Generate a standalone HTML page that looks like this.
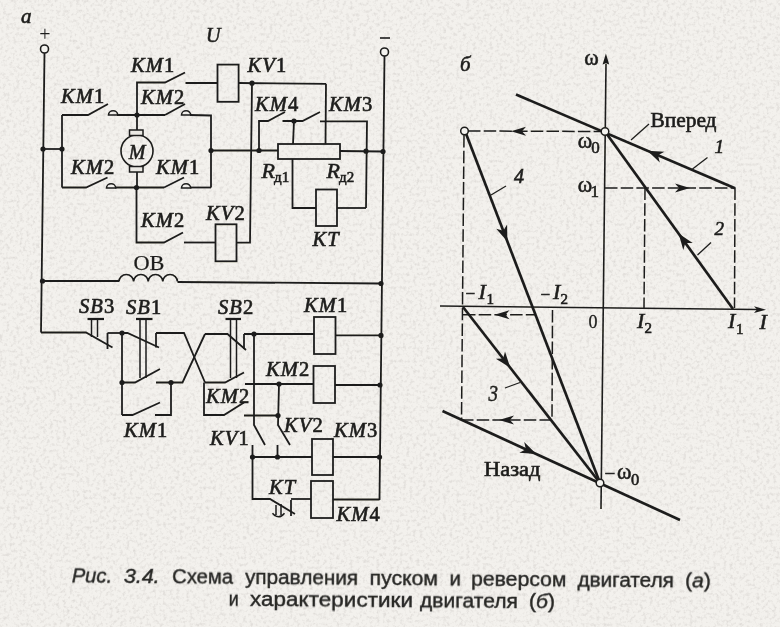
<!DOCTYPE html>
<html><head><meta charset="utf-8"><style>
html,body{margin:0;padding:0;}
body{width:780px;height:627px;position:relative;overflow:hidden;background:#f3f1ed;}
svg{position:absolute;left:0;top:0;}
</style></head><body>
<svg width="780" height="627" viewBox="0 0 780 627">
<filter id="n" x="0" y="0" width="100%" height="100%">
<feTurbulence type="fractalNoise" baseFrequency="0.3" numOctaves="3" seed="7"/>
<feColorMatrix type="matrix" values="0 0 0 0 0.45  0 0 0 0 0.42  0 0 0 0 0.40  0 0 0 -0.75 0.4"/>
</filter>
<rect width="780" height="627" filter="url(#n)"/>
<filter id="b" x="-2%" y="-2%" width="104%" height="104%"><feGaussianBlur stdDeviation="0.3"/></filter>
<g filter="url(#b)">
<text x="21" y="23" font-family="Liberation Serif" font-size="21" font-style="italic" text-anchor="start" fill="#1e1e1c" stroke="#1e1e1c" stroke-width="0.6">a</text>
<text x="45" y="40.5" text-anchor="middle" font-family="Liberation Serif" font-size="20" fill="#1e1e1c">+</text>
<text x="206" y="42" font-family="Liberation Serif" font-size="20" font-style="italic" text-anchor="start" fill="#1e1e1c" stroke="#1e1e1c" stroke-width="0.6">U</text>
<line x1="380" y1="38" x2="390" y2="38" stroke="#1e1e1c" stroke-width="1.6"/>
<circle cx="44.5" cy="49" r="4" fill="#f4f3ef" stroke="#1e1e1c" stroke-width="1.6"/>
<circle cx="384.5" cy="52" r="4" fill="#f4f3ef" stroke="#1e1e1c" stroke-width="1.6"/>
<line x1="44.5" y1="53" x2="41" y2="332.5" stroke="#1e1e1c" stroke-width="1.8"/>
<line x1="384.5" y1="56" x2="379.5" y2="500" stroke="#1e1e1c" stroke-width="1.8"/>
<polyline points="137,115 137,82.5 165,82.5 185,72.5" fill="none" stroke="#1e1e1c" stroke-width="1.8" stroke-linejoin="miter"/>
<line x1="185.5" y1="83" x2="217.5" y2="83" stroke="#1e1e1c" stroke-width="1.8"/>
<rect x="217.5" y="64.6" width="21.099999999999994" height="37.2" fill="none" stroke="#1e1e1c" stroke-width="1.8"/>
<line x1="238.6" y1="83" x2="326" y2="83.8" stroke="#1e1e1c" stroke-width="1.8"/>
<circle cx="252" cy="83.2" r="2.6" fill="#1e1e1c"/>
<polyline points="252,83.2 250,242.7 236.5,242.7" fill="none" stroke="#1e1e1c" stroke-width="1.8" stroke-linejoin="miter"/>
<rect x="215.5" y="224.3" width="21.0" height="37.0" fill="none" stroke="#1e1e1c" stroke-width="1.8"/>
<line x1="215.5" y1="242.5" x2="184" y2="242.5" stroke="#1e1e1c" stroke-width="1.8"/>
<polyline points="183,232.5 164,242.5 136.5,242.5 136.5,187.5" fill="none" stroke="#1e1e1c" stroke-width="1.8" stroke-linejoin="miter"/>
<line x1="326" y1="83.8" x2="325.5" y2="144" stroke="#1e1e1c" stroke-width="1.8"/>
<polyline points="259,150.5 259,121 268,121 285,112" fill="none" stroke="#1e1e1c" stroke-width="1.8" stroke-linejoin="miter"/>
<polyline points="282.5,121 302.5,121 320,112" fill="none" stroke="#1e1e1c" stroke-width="1.8" stroke-linejoin="miter"/>
<circle cx="294" cy="121" r="2.6" fill="#1e1e1c"/>
<line x1="294" y1="121" x2="293" y2="144" stroke="#1e1e1c" stroke-width="1.8"/>
<polyline points="320,121.3 367,121.3 366,208" fill="none" stroke="#1e1e1c" stroke-width="1.8" stroke-linejoin="miter"/>
<rect x="278" y="144" width="62" height="15" fill="none" stroke="#1e1e1c" stroke-width="1.8"/>
<line x1="211" y1="150.5" x2="278" y2="150.5" stroke="#1e1e1c" stroke-width="1.8"/>
<line x1="340" y1="151" x2="383" y2="151.5" stroke="#1e1e1c" stroke-width="1.8"/>
<circle cx="211" cy="150.5" r="2.6" fill="#1e1e1c"/>
<circle cx="259" cy="150.5" r="2.6" fill="#1e1e1c"/>
<circle cx="366" cy="151.2" r="2.6" fill="#1e1e1c"/>
<circle cx="383" cy="151.5" r="2.6" fill="#1e1e1c"/>
<line x1="62" y1="115" x2="62" y2="187.5" stroke="#1e1e1c" stroke-width="1.8"/>
<line x1="43" y1="149" x2="62" y2="149" stroke="#1e1e1c" stroke-width="1.8"/>
<circle cx="43" cy="149" r="2.6" fill="#1e1e1c"/>
<circle cx="62" cy="149" r="2.6" fill="#1e1e1c"/>
<polyline points="62,115 88,115 108,104" fill="none" stroke="#1e1e1c" stroke-width="1.8" stroke-linejoin="miter"/>
<path d="M108.5,115 A4.6,4.2 0 0 1 117.7,115 Z" fill="none" stroke="#1e1e1c" stroke-width="1.6"/>
<line x1="117" y1="115" x2="165" y2="115" stroke="#1e1e1c" stroke-width="1.8"/>
<line x1="165" y1="115" x2="185" y2="104" stroke="#1e1e1c" stroke-width="1.8"/>
<path d="M181.5,115 A4.6,4.2 0 0 1 190.7,115 Z" fill="none" stroke="#1e1e1c" stroke-width="1.6"/>
<polyline points="190,115 211,115.5 211,187.5" fill="none" stroke="#1e1e1c" stroke-width="1.8" stroke-linejoin="miter"/>
<circle cx="137" cy="115" r="2.6" fill="#1e1e1c"/>
<line x1="137" y1="115" x2="137" y2="130" stroke="#1e1e1c" stroke-width="1.8"/>
<circle cx="137" cy="151" r="16" fill="none" stroke="#1e1e1c" stroke-width="1.6"/>
<rect x="129.5" y="130" width="13.5" height="5.5" fill="#ebe9e4" stroke="#1e1e1c" stroke-width="1.5"/>
<rect x="129.5" y="166.5" width="13.5" height="5.5" fill="#ebe9e4" stroke="#1e1e1c" stroke-width="1.5"/>
<text x="137" y="158.5" font-family="Liberation Serif" font-size="20" font-style="italic" text-anchor="middle" fill="#1e1e1c" stroke="#1e1e1c" stroke-width="0.6">M</text>
<line x1="137" y1="172" x2="137" y2="187.5" stroke="#1e1e1c" stroke-width="1.8"/>
<polyline points="62,187.5 86,187.5 107.5,177.5" fill="none" stroke="#1e1e1c" stroke-width="1.8" stroke-linejoin="miter"/>
<path d="M106.5,188 A4.6,4.2 0 0 1 115.7,188 Z" fill="none" stroke="#1e1e1c" stroke-width="1.6"/>
<line x1="115" y1="187.5" x2="164" y2="187.5" stroke="#1e1e1c" stroke-width="1.8"/>
<line x1="164" y1="187.5" x2="184" y2="177.5" stroke="#1e1e1c" stroke-width="1.8"/>
<path d="M181.5,188 A4.6,4.2 0 0 1 190.7,188 Z" fill="none" stroke="#1e1e1c" stroke-width="1.6"/>
<line x1="190" y1="187.5" x2="211" y2="187.5" stroke="#1e1e1c" stroke-width="1.8"/>
<circle cx="136.5" cy="187.5" r="2.6" fill="#1e1e1c"/>
<polyline points="292.5,159 292.5,208 316,208" fill="none" stroke="#1e1e1c" stroke-width="1.8" stroke-linejoin="miter"/>
<rect x="316" y="189.5" width="21" height="36.5" fill="none" stroke="#1e1e1c" stroke-width="1.8"/>
<line x1="337" y1="208" x2="366" y2="208" stroke="#1e1e1c" stroke-width="1.8"/>
<line x1="42.5" y1="281" x2="119" y2="281" stroke="#1e1e1c" stroke-width="1.8"/>
<path d="M119,281.5 a7.3,7 0 0 1 14.6,0 a7.3,7 0 0 1 14.6,0 a7.3,7 0 0 1 14.6,0 a7.3,7 0 0 1 14.6,0" fill="none" stroke="#1e1e1c" stroke-width="1.6"/>
<line x1="177.5" y1="282" x2="381" y2="283.5" stroke="#1e1e1c" stroke-width="1.8"/>
<circle cx="42.5" cy="281" r="2.6" fill="#1e1e1c"/>
<circle cx="381" cy="283.5" r="2.6" fill="#1e1e1c"/>
<text x="133.5" y="270.3" textLength="31" lengthAdjust="spacingAndGlyphs" font-family="Liberation Serif" font-size="22" fill="#1e1e1c" stroke="#1e1e1c" stroke-width="0.25">ОВ</text>
<text x="131" y="72" font-family="Liberation Serif" font-size="20.5" fill="#1e1e1c" stroke="#1e1e1c" stroke-width="0.65" letter-spacing="1.1"><tspan font-style="italic">KM</tspan>1</text>
<text x="61" y="103" font-family="Liberation Serif" font-size="20.5" fill="#1e1e1c" stroke="#1e1e1c" stroke-width="0.65" letter-spacing="1.1"><tspan font-style="italic">KM</tspan>1</text>
<text x="141" y="104" font-family="Liberation Serif" font-size="20.5" fill="#1e1e1c" stroke="#1e1e1c" stroke-width="0.65" letter-spacing="1.1"><tspan font-style="italic">KM</tspan>2</text>
<text x="247.5" y="72.3" font-family="Liberation Serif" font-size="20.5" fill="#1e1e1c" stroke="#1e1e1c" stroke-width="0.65" letter-spacing="1.1"><tspan font-style="italic">KV</tspan>1</text>
<text x="255" y="111" font-family="Liberation Serif" font-size="20.5" fill="#1e1e1c" stroke="#1e1e1c" stroke-width="0.65" letter-spacing="1.1"><tspan font-style="italic">KM</tspan>4</text>
<text x="329" y="111" font-family="Liberation Serif" font-size="20.5" fill="#1e1e1c" stroke="#1e1e1c" stroke-width="0.65" letter-spacing="1.1"><tspan font-style="italic">KM</tspan>3</text>
<text x="71" y="173.5" font-family="Liberation Serif" font-size="20.5" fill="#1e1e1c" stroke="#1e1e1c" stroke-width="0.65" letter-spacing="1.1"><tspan font-style="italic">KM</tspan>2</text>
<text x="156" y="174" font-family="Liberation Serif" font-size="20.5" fill="#1e1e1c" stroke="#1e1e1c" stroke-width="0.65" letter-spacing="1.1"><tspan font-style="italic">KM</tspan>1</text>
<text x="141" y="226.5" font-family="Liberation Serif" font-size="20.5" fill="#1e1e1c" stroke="#1e1e1c" stroke-width="0.65" letter-spacing="1.1"><tspan font-style="italic">KM</tspan>2</text>
<text x="206" y="219.5" font-family="Liberation Serif" font-size="20.5" fill="#1e1e1c" stroke="#1e1e1c" stroke-width="0.65" letter-spacing="1.1"><tspan font-style="italic">KV</tspan>2</text>
<text x="261.5" y="177.5" font-family="Liberation Serif" font-size="22" font-style="italic" text-anchor="start" fill="#1e1e1c" stroke="#1e1e1c" stroke-width="0.6">R</text>
<text x="274" y="182.2" font-family="Liberation Serif" font-size="15" font-style="normal" text-anchor="start" fill="#1e1e1c" stroke="#1e1e1c" stroke-width="0.6">д1</text>
<text x="326.5" y="177.5" font-family="Liberation Serif" font-size="22" font-style="italic" text-anchor="start" fill="#1e1e1c" stroke="#1e1e1c" stroke-width="0.6">R</text>
<text x="339" y="182.2" font-family="Liberation Serif" font-size="15" font-style="normal" text-anchor="start" fill="#1e1e1c" stroke="#1e1e1c" stroke-width="0.6">д2</text>
<text x="312.5" y="246" font-family="Liberation Serif" font-size="20.5" fill="#1e1e1c" stroke="#1e1e1c" stroke-width="0.65" letter-spacing="1.1"><tspan font-style="italic">KT</tspan></text>
<polyline points="41,332.5 86,332.5 112.5,347.5" fill="none" stroke="#1e1e1c" stroke-width="1.8" stroke-linejoin="miter"/>
<line x1="107.5" y1="333" x2="107.5" y2="349" stroke="#1e1e1c" stroke-width="1.8"/>
<line x1="107.5" y1="333" x2="122" y2="333" stroke="#1e1e1c" stroke-width="1.8"/>
<line x1="91.5" y1="319" x2="91.5" y2="337" stroke="#1e1e1c" stroke-width="1.5"/>
<line x1="97.5" y1="319" x2="97.5" y2="337" stroke="#1e1e1c" stroke-width="1.5"/>
<line x1="87.5" y1="319" x2="104" y2="319" stroke="#1e1e1c" stroke-width="2.2"/>
<circle cx="122" cy="333" r="2.6" fill="#1e1e1c"/>
<line x1="122" y1="333" x2="122" y2="415" stroke="#1e1e1c" stroke-width="1.8"/>
<polyline points="122,333 127.5,333 159,347.5" fill="none" stroke="#1e1e1c" stroke-width="1.8" stroke-linejoin="miter"/>
<line x1="156" y1="333" x2="156" y2="347.5" stroke="#1e1e1c" stroke-width="1.8"/>
<polyline points="156,333 184,333 205,382.5" fill="none" stroke="#1e1e1c" stroke-width="1.8" stroke-linejoin="miter"/>
<line x1="140" y1="319" x2="140" y2="378" stroke="#1e1e1c" stroke-width="1.5"/>
<line x1="146" y1="319" x2="146" y2="378" stroke="#1e1e1c" stroke-width="1.5"/>
<line x1="136" y1="319" x2="152.5" y2="319" stroke="#1e1e1c" stroke-width="2.2"/>
<polyline points="122,382.5 135,382.5 160,369" fill="none" stroke="#1e1e1c" stroke-width="1.8" stroke-linejoin="miter"/>
<polyline points="156,382.5 182.5,382.5 205,334" fill="none" stroke="#1e1e1c" stroke-width="1.8" stroke-linejoin="miter"/>
<circle cx="122" cy="382.5" r="2.6" fill="#1e1e1c"/>
<circle cx="171" cy="382.5" r="2.6" fill="#1e1e1c"/>
<polyline points="122,415 132.5,415 160,402.5" fill="none" stroke="#1e1e1c" stroke-width="1.8" stroke-linejoin="miter"/>
<polyline points="155,415 171,415 171,382.5" fill="none" stroke="#1e1e1c" stroke-width="1.8" stroke-linejoin="miter"/>
<polyline points="205,334 227.5,334 246,350" fill="none" stroke="#1e1e1c" stroke-width="1.8" stroke-linejoin="miter"/>
<line x1="244" y1="334" x2="244" y2="349" stroke="#1e1e1c" stroke-width="1.8"/>
<line x1="244" y1="334" x2="314" y2="334" stroke="#1e1e1c" stroke-width="1.8"/>
<circle cx="254" cy="334" r="2.6" fill="#1e1e1c"/>
<rect x="314" y="317" width="21.5" height="37" fill="none" stroke="#1e1e1c" stroke-width="1.8"/>
<line x1="335.5" y1="335.4" x2="381" y2="335.4" stroke="#1e1e1c" stroke-width="1.8"/>
<circle cx="381" cy="335.4" r="2.6" fill="#1e1e1c"/>
<line x1="230.5" y1="319" x2="230.5" y2="378" stroke="#1e1e1c" stroke-width="1.5"/>
<line x1="236.5" y1="319" x2="236.5" y2="378" stroke="#1e1e1c" stroke-width="1.5"/>
<line x1="225.5" y1="319" x2="241" y2="319" stroke="#1e1e1c" stroke-width="2.2"/>
<polyline points="205,382.5 225,382.5 244,372.5" fill="none" stroke="#1e1e1c" stroke-width="1.8" stroke-linejoin="miter"/>
<line x1="245" y1="384" x2="313.5" y2="384" stroke="#1e1e1c" stroke-width="1.8"/>
<circle cx="279" cy="384" r="2.6" fill="#1e1e1c"/>
<rect x="313.5" y="366" width="21.5" height="37" fill="none" stroke="#1e1e1c" stroke-width="1.8"/>
<line x1="335" y1="385" x2="380" y2="385" stroke="#1e1e1c" stroke-width="1.8"/>
<circle cx="380" cy="385" r="2.6" fill="#1e1e1c"/>
<polyline points="204,382.5 204,415 224,415 244,402.5" fill="none" stroke="#1e1e1c" stroke-width="1.8" stroke-linejoin="miter"/>
<line x1="244" y1="415.5" x2="278" y2="415.5" stroke="#1e1e1c" stroke-width="1.8"/>
<circle cx="278" cy="415.5" r="2.6" fill="#1e1e1c"/>
<polyline points="279,384 278,425 290,445" fill="none" stroke="#1e1e1c" stroke-width="1.8" stroke-linejoin="miter"/>
<line x1="277.5" y1="445" x2="277.5" y2="457" stroke="#1e1e1c" stroke-width="1.8"/>
<polyline points="254,334 254,425 265,445" fill="none" stroke="#1e1e1c" stroke-width="1.8" stroke-linejoin="miter"/>
<line x1="252.5" y1="445" x2="252.5" y2="457" stroke="#1e1e1c" stroke-width="1.8"/>
<line x1="252.5" y1="457" x2="312" y2="457" stroke="#1e1e1c" stroke-width="1.8"/>
<circle cx="252.5" cy="457" r="2.6" fill="#1e1e1c"/>
<circle cx="277.5" cy="457" r="2.6" fill="#1e1e1c"/>
<rect x="312" y="439" width="21" height="36" fill="none" stroke="#1e1e1c" stroke-width="1.8"/>
<line x1="333" y1="457" x2="379.5" y2="457" stroke="#1e1e1c" stroke-width="1.8"/>
<circle cx="379.5" cy="457" r="2.6" fill="#1e1e1c"/>
<polyline points="252.5,457 252.5,499 270,499 295,514" fill="none" stroke="#1e1e1c" stroke-width="1.8" stroke-linejoin="miter"/>
<line x1="291" y1="500" x2="291" y2="516" stroke="#1e1e1c" stroke-width="1.8"/>
<line x1="291" y1="499" x2="311" y2="499" stroke="#1e1e1c" stroke-width="1.8"/>
<rect x="311" y="481" width="22" height="37" fill="none" stroke="#1e1e1c" stroke-width="1.8"/>
<line x1="333" y1="499.5" x2="379.5" y2="499.5" stroke="#1e1e1c" stroke-width="1.8"/>
<path d="M276,505 V515 M281,504 V515 M272.5,513.2 Q278.5,520.5 284.5,513.2" fill="none" stroke="#1e1e1c" stroke-width="1.5"/>
<text x="79" y="313" font-family="Liberation Serif" font-size="20.5" fill="#1e1e1c" stroke="#1e1e1c" stroke-width="0.65" letter-spacing="1.1"><tspan font-style="italic">SB</tspan>3</text>
<text x="126" y="314" font-family="Liberation Serif" font-size="20.5" fill="#1e1e1c" stroke="#1e1e1c" stroke-width="0.65" letter-spacing="1.1"><tspan font-style="italic">SB</tspan>1</text>
<text x="218" y="313.8" font-family="Liberation Serif" font-size="20.5" fill="#1e1e1c" stroke="#1e1e1c" stroke-width="0.65" letter-spacing="1.1"><tspan font-style="italic">SB</tspan>2</text>
<text x="304" y="312" font-family="Liberation Serif" font-size="20.5" fill="#1e1e1c" stroke="#1e1e1c" stroke-width="0.65" letter-spacing="1.1"><tspan font-style="italic">KM</tspan>1</text>
<text x="266" y="376" font-family="Liberation Serif" font-size="20.5" fill="#1e1e1c" stroke="#1e1e1c" stroke-width="0.65" letter-spacing="1.1"><tspan font-style="italic">KM</tspan>2</text>
<text x="206" y="402.5" font-family="Liberation Serif" font-size="20.5" fill="#1e1e1c" stroke="#1e1e1c" stroke-width="0.65" letter-spacing="1.1"><tspan font-style="italic">KM</tspan>2</text>
<text x="124" y="437" font-family="Liberation Serif" font-size="20.5" fill="#1e1e1c" stroke="#1e1e1c" stroke-width="0.65" letter-spacing="1.1"><tspan font-style="italic">KM</tspan>1</text>
<text x="210" y="445" font-family="Liberation Serif" font-size="20.5" fill="#1e1e1c" stroke="#1e1e1c" stroke-width="0.65" letter-spacing="1.1"><tspan font-style="italic">KV</tspan>1</text>
<text x="284" y="431.5" font-family="Liberation Serif" font-size="20.5" fill="#1e1e1c" stroke="#1e1e1c" stroke-width="0.65" letter-spacing="1.1"><tspan font-style="italic">KV</tspan>2</text>
<text x="334" y="436.5" font-family="Liberation Serif" font-size="20.5" fill="#1e1e1c" stroke="#1e1e1c" stroke-width="0.65" letter-spacing="1.1"><tspan font-style="italic">KM</tspan>3</text>
<text x="269" y="494" font-family="Liberation Serif" font-size="20.5" fill="#1e1e1c" stroke="#1e1e1c" stroke-width="0.65" letter-spacing="1.1"><tspan font-style="italic">KT</tspan></text>
<text x="336.5" y="521" font-family="Liberation Serif" font-size="20.5" fill="#1e1e1c" stroke="#1e1e1c" stroke-width="0.65" letter-spacing="1.1"><tspan font-style="italic">KM</tspan>4</text>
<line x1="606" y1="64" x2="601" y2="509" stroke="#1e1e1c" stroke-width="1.6"/>
<polygon points="605.9,53.5 602.6,64.5 605.9,63.3 609.2,64.5" fill="#1e1e1c"/>
<line x1="440" y1="306" x2="757" y2="309.5" stroke="#1e1e1c" stroke-width="1.6"/>
<polygon points="766,309.7 754,306.3 757,309.6 754,313" fill="#1e1e1c"/>
<line x1="468" y1="131" x2="601" y2="131.5" stroke="#1e1e1c" stroke-width="1.5" stroke-dasharray="12.5,3.2"/>
<polygon points="511.0,131.2 526.0,126.7 522.0,131.2 526.0,135.7" fill="#1e1e1c"/>
<line x1="464" y1="135" x2="461.5" y2="420" stroke="#1e1e1c" stroke-width="1.5" stroke-dasharray="12.5,3.2"/>
<line x1="605" y1="188" x2="735" y2="188" stroke="#1e1e1c" stroke-width="1.5" stroke-dasharray="12.5,3.2"/>
<polygon points="690.0,188.0 675.0,192.5 679.0,188.0 675.0,183.5" fill="#1e1e1c"/>
<line x1="645" y1="187.5" x2="644" y2="308" stroke="#1e1e1c" stroke-width="1.5" stroke-dasharray="12.5,3.2"/>
<line x1="735" y1="187.5" x2="734.5" y2="308" stroke="#1e1e1c" stroke-width="1.5" stroke-dasharray="12.5,3.2"/>
<line x1="463" y1="314.8" x2="535" y2="314.8" stroke="#1e1e1c" stroke-width="1.5" stroke-dasharray="12.5,3.2"/>
<polygon points="494.5,314.8 509.5,310.3 505.5,314.8 509.5,319.3" fill="#1e1e1c"/>
<line x1="552.5" y1="310" x2="552" y2="420" stroke="#1e1e1c" stroke-width="1.5" stroke-dasharray="12.5,3.2"/>
<line x1="461" y1="420" x2="552" y2="420" stroke="#1e1e1c" stroke-width="1.5" stroke-dasharray="12.5,3.2"/>
<polygon points="499.0,420.0 514.0,415.5 510.0,420.0 514.0,424.5" fill="#1e1e1c"/>
<line x1="516" y1="94.5" x2="735" y2="188.3" stroke="#1e1e1c" stroke-width="2.7"/>
<line x1="605" y1="131.5" x2="733" y2="309" stroke="#1e1e1c" stroke-width="2.7"/>
<line x1="465" y1="131" x2="600" y2="483" stroke="#1e1e1c" stroke-width="2.7"/>
<line x1="463" y1="307" x2="600" y2="483" stroke="#1e1e1c" stroke-width="2.7"/>
<line x1="442.5" y1="411" x2="680" y2="520" stroke="#1e1e1c" stroke-width="2.7"/>
<polygon points="647.4,150.8 664.4,151.7 658.0,155.3 659.8,162.4" fill="#1e1e1c"/>
<polygon points="678.6,233.6 692.7,243.1 685.3,242.9 683.3,249.9" fill="#1e1e1c"/>
<polygon points="507.4,241.5 496.2,228.7 503.3,230.8 507.1,224.5" fill="#1e1e1c"/>
<polygon points="510.3,367.7 495.9,358.7 503.2,358.6 505.0,351.5" fill="#1e1e1c"/>
<polygon points="536.3,454.1 519.4,452.7 525.9,449.3 524.2,442.1" fill="#1e1e1c"/>
<circle cx="605" cy="131.5" r="3.8" fill="#f4f3ef" stroke="#1e1e1c" stroke-width="1.5"/>
<circle cx="464.5" cy="131" r="3.8" fill="#f4f3ef" stroke="#1e1e1c" stroke-width="1.5"/>
<circle cx="600" cy="483" r="3.8" fill="#f4f3ef" stroke="#1e1e1c" stroke-width="1.5"/>
<line x1="649" y1="124" x2="631" y2="140" stroke="#1e1e1c" stroke-width="1.3"/>
<line x1="707.5" y1="157.5" x2="692.5" y2="169" stroke="#1e1e1c" stroke-width="1.3"/>
<line x1="711" y1="242.5" x2="697.5" y2="255" stroke="#1e1e1c" stroke-width="1.3"/>
<line x1="491" y1="195" x2="506" y2="186" stroke="#1e1e1c" stroke-width="1.3"/>
<line x1="505" y1="388" x2="520" y2="382.5" stroke="#1e1e1c" stroke-width="1.3"/>
<text x="460" y="71" font-family="Liberation Serif" font-size="21" font-style="italic" text-anchor="start" fill="#1e1e1c" stroke="#1e1e1c" stroke-width="0.6">б</text>
<text transform="translate(584.3,65.3) scale(1.0,1.08)" font-family="Liberation Serif" font-size="22" fill="#1e1e1c" stroke="#1e1e1c" stroke-width="0.55">ω</text>
<text x="650.5" y="126.5" textLength="66" lengthAdjust="spacingAndGlyphs" font-family="Liberation Serif" font-size="20" fill="#1e1e1c" stroke="#1e1e1c" stroke-width="0.6">Вперед</text>
<text transform="translate(577.8,148.2) scale(1.0,1.08)" font-family="Liberation Serif" font-size="22" fill="#1e1e1c" stroke="#1e1e1c" stroke-width="0.55">ω</text>
<text x="591.3" y="153.2" font-family="Liberation Serif" font-size="17" font-style="normal" text-anchor="start" fill="#1e1e1c" stroke="#1e1e1c" stroke-width="0.6">0</text>
<text transform="translate(577.8,192.3) scale(1.0,1.08)" font-family="Liberation Serif" font-size="22" fill="#1e1e1c" stroke="#1e1e1c" stroke-width="0.55">ω</text>
<text x="590.5" y="197.4" font-family="Liberation Serif" font-size="17" font-style="normal" text-anchor="start" fill="#1e1e1c" stroke="#1e1e1c" stroke-width="0.6">1</text>
<text x="714.5" y="152.5" font-family="Liberation Serif" font-size="19" font-style="italic" text-anchor="start" fill="#1e1e1c" stroke="#1e1e1c" stroke-width="0.6">1</text>
<text x="714.5" y="235" font-family="Liberation Serif" font-size="19" font-style="italic" text-anchor="start" fill="#1e1e1c" stroke="#1e1e1c" stroke-width="0.6">2</text>
<text x="514" y="183.3" font-family="Liberation Serif" font-size="20" font-style="italic" text-anchor="start" fill="#1e1e1c" stroke="#1e1e1c" stroke-width="0.6">4</text>
<text transform="translate(488.5,400.5) scale(1,1.2)" font-family="Liberation Serif" font-size="19" font-style="italic" fill="#1e1e1c" stroke="#1e1e1c" stroke-width="0.4">3</text>
<text x="588.5" y="327.5" font-family="Liberation Serif" font-size="18" fill="#1e1e1c" stroke="#1e1e1c" stroke-width="0.3">0</text>
<text x="637" y="327.8" font-family="Liberation Serif" font-size="22" font-style="italic" text-anchor="start" fill="#1e1e1c" stroke="#1e1e1c" stroke-width="0.6">I</text>
<text x="644.5" y="332.8" font-family="Liberation Serif" font-size="15" font-style="normal" text-anchor="start" fill="#1e1e1c" stroke="#1e1e1c" stroke-width="0.6">2</text>
<text x="728" y="328.3" font-family="Liberation Serif" font-size="22" font-style="italic" text-anchor="start" fill="#1e1e1c" stroke="#1e1e1c" stroke-width="0.6">I</text>
<text x="736" y="333.5" font-family="Liberation Serif" font-size="15" font-style="normal" text-anchor="start" fill="#1e1e1c" stroke="#1e1e1c" stroke-width="0.6">1</text>
<text x="759.5" y="329" font-family="Liberation Serif" font-size="22" font-style="italic" text-anchor="start" fill="#1e1e1c" stroke="#1e1e1c" stroke-width="0.6">I</text>
<text x="465.5" y="299" font-family="Liberation Serif" font-size="17" font-style="normal" text-anchor="start" fill="#1e1e1c" stroke="#1e1e1c" stroke-width="0.6">−</text>
<text x="478.5" y="298.5" font-family="Liberation Serif" font-size="22" font-style="italic" text-anchor="start" fill="#1e1e1c" stroke="#1e1e1c" stroke-width="0.6">I</text>
<text x="486.5" y="303.5" font-family="Liberation Serif" font-size="15" font-style="normal" text-anchor="start" fill="#1e1e1c" stroke="#1e1e1c" stroke-width="0.6">1</text>
<text x="540.5" y="300" font-family="Liberation Serif" font-size="17" font-style="normal" text-anchor="start" fill="#1e1e1c" stroke="#1e1e1c" stroke-width="0.6">−</text>
<text x="553" y="299.2" font-family="Liberation Serif" font-size="22" font-style="italic" text-anchor="start" fill="#1e1e1c" stroke="#1e1e1c" stroke-width="0.6">I</text>
<text x="560.5" y="304.3" font-family="Liberation Serif" font-size="15" font-style="normal" text-anchor="start" fill="#1e1e1c" stroke="#1e1e1c" stroke-width="0.6">2</text>
<text x="484" y="476" textLength="56.5" lengthAdjust="spacingAndGlyphs" font-family="Liberation Serif" font-size="20" fill="#1e1e1c" stroke="#1e1e1c" stroke-width="0.6">Назад</text>
<text x="604.6" y="480" font-family="Liberation Serif" font-size="19" font-style="normal" text-anchor="start" fill="#1e1e1c" stroke="#1e1e1c" stroke-width="0.6">−</text>
<text transform="translate(617,479.4) scale(1.0,1.08)" font-family="Liberation Serif" font-size="22" fill="#1e1e1c" stroke="#1e1e1c" stroke-width="0.55">ω</text>
<text x="631" y="485" font-family="Liberation Serif" font-size="16.5" font-style="normal" text-anchor="start" fill="#1e1e1c" stroke="#1e1e1c" stroke-width="0.6">0</text>
<g transform="rotate(0.46 392 595)">
<text x="71.7" y="584.8" textLength="40.3" lengthAdjust="spacingAndGlyphs" font-family="Liberation Sans" font-size="20" font-style="italic" fill="#262624" stroke="#262624" stroke-width="0.4">Рис.</text>
<text x="123.7" y="584.8" textLength="35.89999999999999" lengthAdjust="spacingAndGlyphs" font-family="Liberation Sans" font-size="20" font-style="italic" fill="#262624" stroke="#262624" stroke-width="0.4">3.4.</text>
<text x="172" y="584.8" textLength="61" lengthAdjust="spacingAndGlyphs" font-family="Liberation Sans" font-size="20" fill="#262624" stroke="#262624" stroke-width="0.4">Схема</text>
<text x="245" y="584.8" textLength="113" lengthAdjust="spacingAndGlyphs" font-family="Liberation Sans" font-size="20" fill="#262624" stroke="#262624" stroke-width="0.4">управления</text>
<text x="369.6" y="584.8" textLength="68.19999999999999" lengthAdjust="spacingAndGlyphs" font-family="Liberation Sans" font-size="20" fill="#262624" stroke="#262624" stroke-width="0.4">пуском</text>
<text x="449.5" y="584.8" textLength="11.300000000000011" lengthAdjust="spacingAndGlyphs" font-family="Liberation Sans" font-size="20" fill="#262624" stroke="#262624" stroke-width="0.4">и</text>
<text x="471" y="584.8" textLength="95.39999999999998" lengthAdjust="spacingAndGlyphs" font-family="Liberation Sans" font-size="20" fill="#262624" stroke="#262624" stroke-width="0.4">реверсом</text>
<text x="577.4" y="584.8" textLength="96.39999999999998" lengthAdjust="spacingAndGlyphs" font-family="Liberation Sans" font-size="20" fill="#262624" stroke="#262624" stroke-width="0.4">двигателя</text>
<text x="685" y="584.8" textLength="25.799999999999955" lengthAdjust="spacingAndGlyphs" font-family="Liberation Sans" font-size="20" fill="#262624" stroke="#262624" stroke-width="0.4">(<tspan font-style="italic">а</tspan>)</text>
<text x="228.8" y="607.3" textLength="10.0" lengthAdjust="spacingAndGlyphs" font-family="Liberation Sans" font-size="20" fill="#262624" stroke="#262624" stroke-width="0.4">и</text>
<text x="250" y="607.3" textLength="163" lengthAdjust="spacingAndGlyphs" font-family="Liberation Sans" font-size="20" fill="#262624" stroke="#262624" stroke-width="0.4">характеристики</text>
<text x="420" y="607.3" textLength="98" lengthAdjust="spacingAndGlyphs" font-family="Liberation Sans" font-size="20" fill="#262624" stroke="#262624" stroke-width="0.4">двигателя</text>
<text x="529" y="607.3" textLength="26" lengthAdjust="spacingAndGlyphs" font-family="Liberation Sans" font-size="20" fill="#262624" stroke="#262624" stroke-width="0.4">(<tspan font-style="italic">б</tspan>)</text>
</g>
</g>
</svg>

</body></html>
